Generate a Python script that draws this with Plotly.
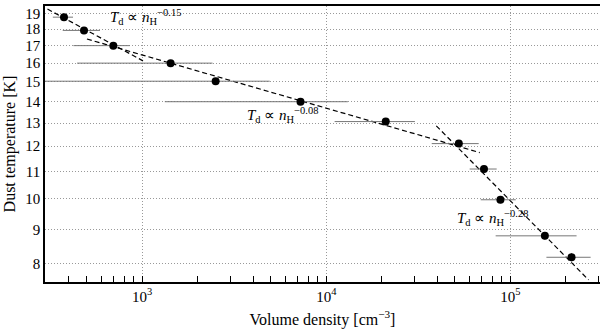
import plotly.graph_objects as go
import numpy as np

# pontos medidos (densidade em cm^-3, temperatura em K)
densidade = [376, 483, 697, 1427, 2506, 7245, 21040, 52500, 71900, 88300, 154000, 215000]
temperatura = [18.76, 17.92, 17.0, 16.0, 15.03, 14.0, 13.07, 12.11, 11.09, 9.97, 8.80, 8.17]
dens_min = [327, 370, 423, 443, 250, 1327, 11100, 37400, 60100, 69000, 83200, 157000]
dens_max = [421, 590, 857, 2410, 4930, 13100, 30300, 67300, 84300, 107000, 229000, 273000]
temp_err = [0.15, 0.15, 0.15, 0.15, 0.15, 0.15, 0.12, 0.12, 0.12, 0.12, 0.12, 0.12]

# ajustes T = A * n^expoente
expoentes = [-0.15, -0.08, -0.28]
amplitudes = [10 ** 1.6582, 10 ** 1.4564, 10 ** 2.3972]
faixa_ini = [280, 501, 39600]
faixa_fim = [1010, 68200, 266000]
rotulos = ["-0.15", "-0.08", "-0.28"]
rot_x = [652, 3610, 49900]
rot_y = [18.76, 13.37, 9.36]

fonte = "Liberation Serif"

fig = go.Figure()

for k in range(3):
    n = np.logspace(np.log10(faixa_ini[k]), np.log10(faixa_fim[k]), 50)
    fig.add_trace(go.Scatter(x=n, y=amplitudes[k] * n ** expoentes[k], mode="lines",
                             line=dict(color="black", width=1.2, dash="5px,3px"),
                             showlegend=False, hoverinfo="skip"))

err_mais = [b - a for a, b in zip(densidade, dens_max)]
err_menos = [a - b for a, b in zip(densidade, dens_min)]

fig.add_trace(go.Scatter(
    x=densidade, y=temperatura, mode="markers",
    marker=dict(color="black", size=8),
    error_x=dict(type="data", array=err_mais, arrayminus=err_menos,
                 color="#777777", thickness=1, width=0),
    error_y=dict(type="data", array=temp_err, color="#777777", thickness=1, width=0),
    showlegend=False))

for k in range(3):
    fig.add_annotation(x=np.log10(rot_x[k]), y=np.log10(rot_y[k]), xref="x", yref="y",
                       text=f"<i>T</i><sub>d</sub> ∝ <i>n</i><sub>H</sub><sup>{rotulos[k].replace('-', '−')}</sup>",
                       showarrow=False, xanchor="left", yanchor="middle",
                       font=dict(family=fonte, size=15, color="black"))

yticks = list(range(8, 20))
fig.update_layout(
    width=600, height=334,
    margin=dict(l=45, r=0, t=6, b=52),
    plot_bgcolor="white", paper_bgcolor="white",
    font=dict(family=fonte, size=15, color="black"),
    xaxis=dict(type="log", range=[2.472, 5.487], automargin=False,
               tickvals=[1e3, 1e4, 1e5],
               ticktext=["10<sup>3</sup>", "10<sup>4</sup>", "10<sup>5</sup>"],
               ticks="inside", ticklen=6, tickcolor="black",
               showline=True, linecolor="black", linewidth=1.5, mirror=True,
               showgrid=True, gridcolor="#999999", griddash="1px,2px", gridwidth=1,
               minor=dict(tickvals=[m * 10 ** d for d in (2, 3, 4, 5) for m in range(2, 10)],
                          ticks="inside", ticklen=6, tickcolor="black", showgrid=False),
               title=dict(text="Volume density [cm<sup>−3</sup>]", font=dict(size=16), standoff=10),
               zeroline=False),
    yaxis=dict(type="log", range=[np.log10(7.5), np.log10(19.5)], automargin=False,
               tickvals=yticks, ticktext=[str(t) for t in yticks],
               ticks="", showline=True, linecolor="black", linewidth=1.5, mirror=True,
               showgrid=True, gridcolor="#999999", griddash="1px,2px", gridwidth=1,
               title=dict(text="Dust temperature [K]", font=dict(size=16), standoff=6),
               zeroline=False),
)

# tira a margem padrão do body para o gráfico ocupar a janela toda
fig.write_html("out.html", config={"displayModeBar": False},
               post_script="document.body.style.margin='0';")
